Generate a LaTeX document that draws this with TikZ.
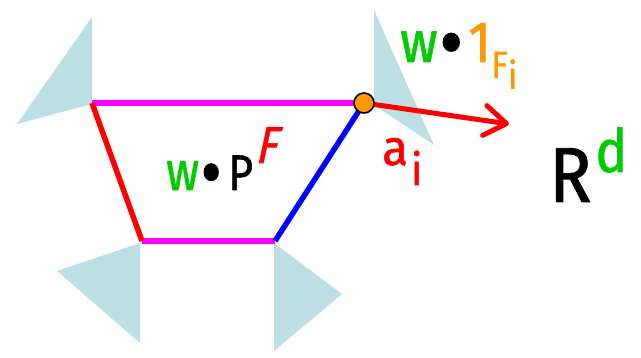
\documentclass[tikz,border=0pt]{standalone}
\usepackage{fontspec}
\setmainfont{Fira Sans}[FakeBold=1.2]
\newfontfamily\slantfont[FakeSlant=0.25,FakeBold=1.2]{Fira Sans}
\usetikzlibrary{arrows.meta}
\definecolor{cone}{RGB}{187,223,227}
\definecolor{mag}{RGB}{255,0,255}
\definecolor{myred}{RGB}{255,0,0}
\definecolor{myblue}{RGB}{0,0,255}
\definecolor{mygreen}{RGB}{0,204,0}
\definecolor{myorange}{RGB}{255,153,0}
\newcommand{\fsz}[1]{\fontsize{#1}{#1}\selectfont}
\newcommand{\bigdot}{\raisebox{-8pt}{\scalebox{1.4}{\textbullet}}}
\begin{document}
\begin{tikzpicture}[x=1pt,y=-1pt,
  conefill/.style={fill=cone,draw=none},
  edge/.style={line width=5.5pt,line cap=butt},
  lbl/.style={inner sep=0pt,anchor=base west}]
\useasboundingbox (0,0) rectangle (641,358);
% cones
\fill[cone] (92,17) -- (92,104) -- (17,124) -- cycle;
\fill[cone] (374,10) -- (374,105) -- (434,145) -- cycle;
\fill[cone] (140,243) -- (57,271) -- (140,343) -- cycle;
\fill[cone] (274,243) -- (342,294) -- (274,351) -- cycle;
% vertices
\coordinate (tl) at (92,103);
\coordinate (tr) at (364,103);
\coordinate (br) at (275,241);
\coordinate (bl) at (142,241);
\coordinate (tip) at (509,124);
% edges
\draw[edge,mag] (tl) -- (tr);
\draw[edge,mag] (bl) -- (br);
\draw[edge,myred] (tl) -- (bl);
\draw[edge,myblue] (br) -- (tr);
% arrow
\draw[line width=5pt,myred,-{Straight Barb[round,length=22pt,width=30pt]}] (tr) -- (tip);
% vertex dot
\node[circle,fill=myorange,draw=black,line width=1.6pt,minimum size=20pt,inner sep=0pt] (dot) at (tr) {};
% labels
\node[lbl,xscale=0.9] (wone) at (400,62) {\fsz{58}\color{mygreen}w\color{black}\hspace{2pt}\bigdot\hspace{6pt}\color{myorange}1\raisebox{-16pt}{\fsz{38}F\raisebox{-11pt}{i}}};
\node[lbl,xscale=0.85] (wp) at (166,190) {\fsz{54}\color{mygreen}w\color{black}\hspace{2pt}\bigdot\hspace{8pt}{\fsz{50}P}\hspace{2pt}\raisebox{27pt}{\fsz{52}\slantfont\color{myred}F}};
\node[lbl,xscale=0.95] (ai) at (382,165) {\fsz{50}\color{myred}a\hspace{3pt}\raisebox{-20pt}{\fsz{44}i}};
\node[lbl,xscale=0.9] (rd) at (549,202) {\fsz{78}R\hspace{4pt}\raisebox{30pt}{\fsz{60}\color{mygreen}d}};
\end{tikzpicture}
\end{document}
